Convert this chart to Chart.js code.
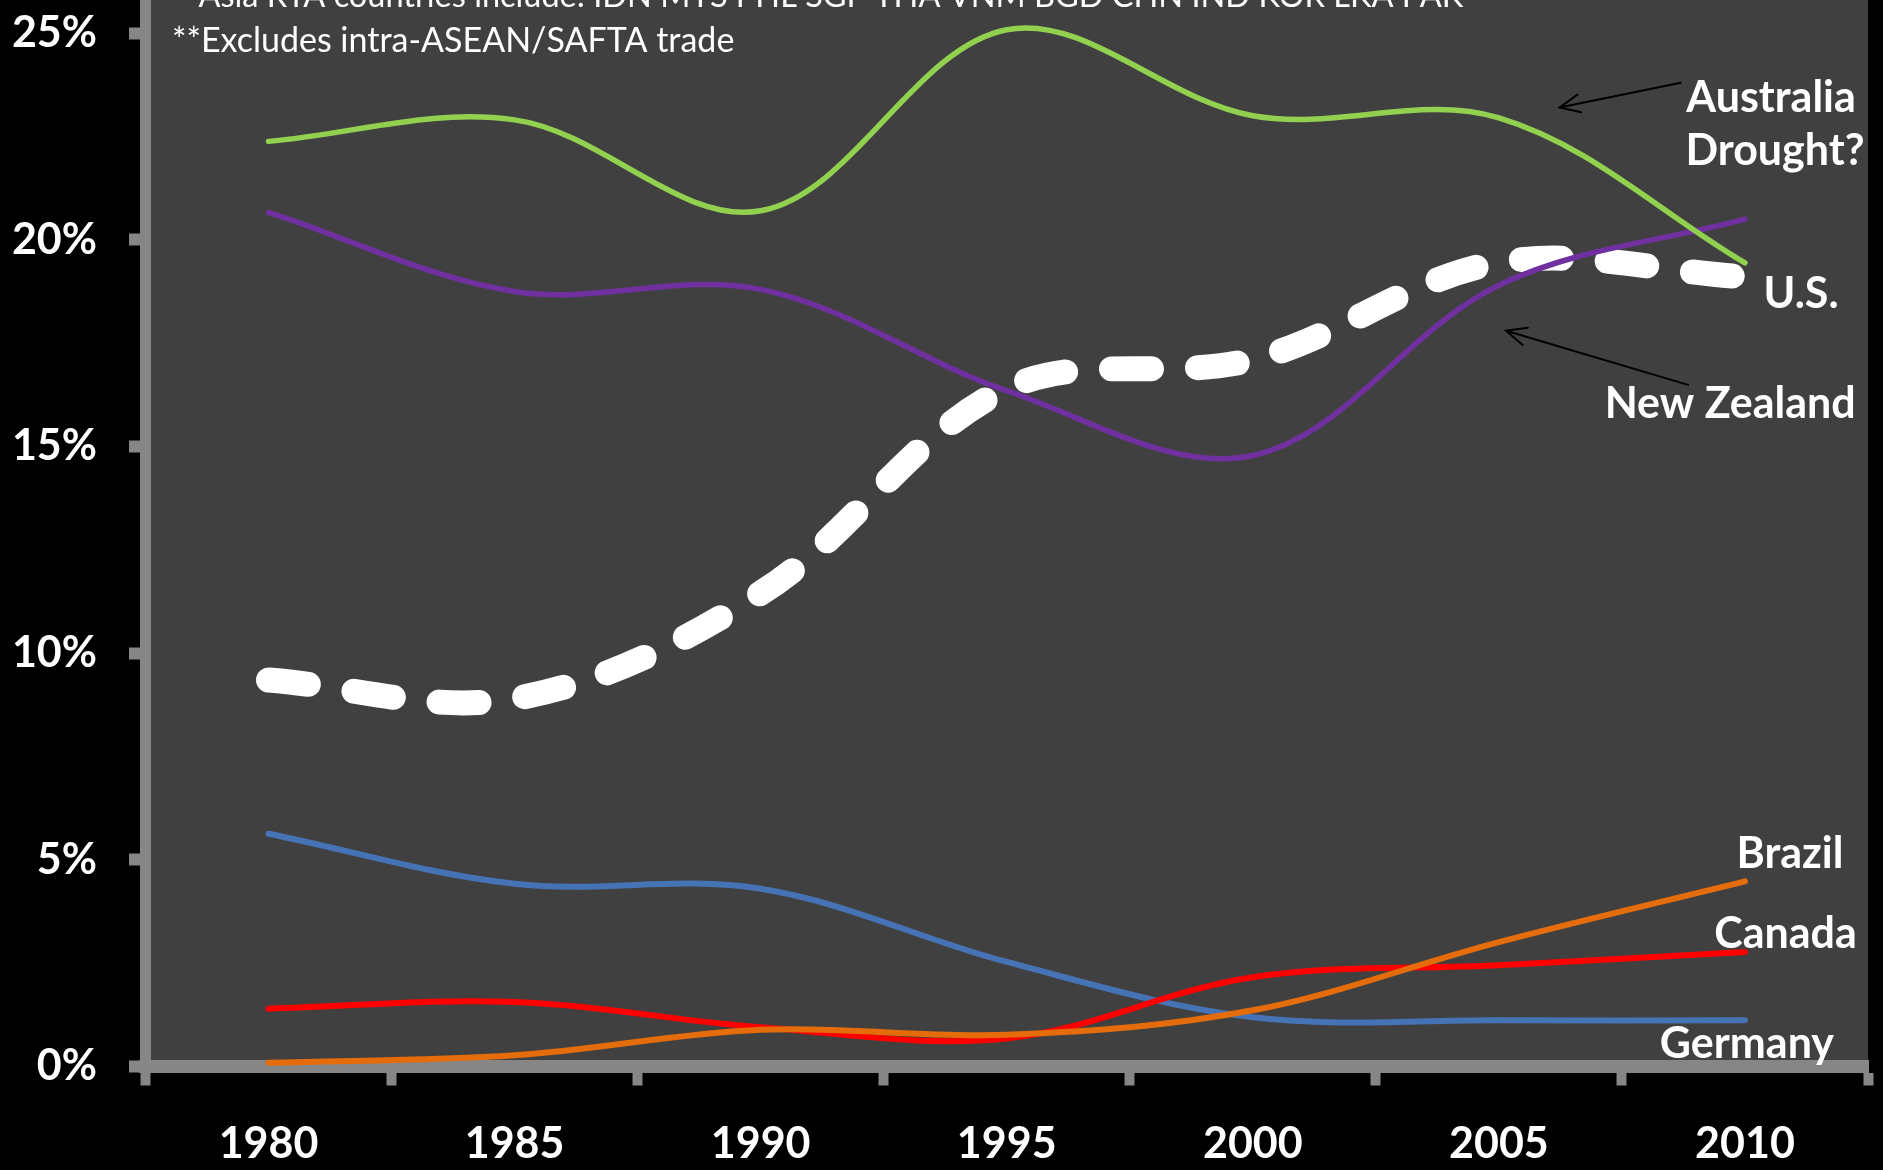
<!DOCTYPE html>
<html>
<head>
<meta charset="utf-8">
<title>Share of agricultural imports</title>
<script src="https://cdn.jsdelivr.net/npm/chart.js@4.4.1/dist/chart.umd.min.js"></script>
<style>
  html, body { margin: 0; padding: 0; background: #000; overflow: hidden; }
  #wrap { position: relative; width: 1883px; height: 1170px; }
</style>
</head>
<body>
<div id="wrap"><canvas id="chart" width="1883" height="1170"></canvas></div>
<script>
// ---- data (percent share) ----
const years = ['1980', '1985', '1990', '1995', '2000', '2005', '2010'];
const usShare          = [9.35, 8.90, 11.45, 16.40, 17.10, 19.45, 19.10];
const australiaShare   = [22.38, 22.90, 20.70, 25.08, 23.00, 22.95, 19.44];
const newZealandShare  = [20.66, 18.75, 18.80, 16.35, 14.78, 18.90, 20.50];
const germanyShare     = [5.63, 4.42, 4.30, 2.53, 1.19, 1.12, 1.12];
const canadaShare      = [1.40, 1.56, 0.95, 0.68, 2.16, 2.45, 2.77];
const brazilShare      = [0.09, 0.27, 0.89, 0.77, 1.36, 3.01, 4.48];
const yTickValues      = [0, 5, 10, 15, 20, 25];

const noteLines = [
  '*Asia RTA countries include: IDN MYS PHL SGP THA VNM BGD CHN IND KOR LKA PAK',
  '**Excludes intra-ASEAN/SAFTA trade'
];

// series name tags, anchored in axis units (category index, percent)
const seriesTags = [
  { text: 'Australia',   x: 6.106, y: 23.08 },
  { text: 'Drought?',    x: 6.122, y: 21.82 },
  { text: 'U.S.',        x: 6.228, y: 18.36 },
  { text: 'New Zealand', x: 5.940, y: 15.70 },
  { text: 'Brazil',      x: 6.183, y: 4.80 },
  { text: 'Canada',      x: 6.165, y: 2.87 },
  { text: 'Germany',     x: 6.008, y: 0.21 }
];

// pointer arrows, tail -> head, in axis units
const pointerArrows = [
  { from: [5.739, 23.80], to: [5.247, 23.20] },
  { from: [5.769, 16.49], to: [5.029, 17.80] }
];

const AXIS_GREY = '#868686';
const TICK_FONT = { family: 'Lato, sans-serif', size: 43, weight: 'bold' };

// dark plot panel on a black page
const backdrop = {
  id: 'backdrop',
  beforeDraw(chart) {
    const { ctx, chartArea: a } = chart;
    ctx.save();
    ctx.fillStyle = '#000';
    ctx.fillRect(0, 0, chart.width, chart.height);
    ctx.fillStyle = '#404040';
    ctx.fillRect(a.left, a.top, a.right - a.left, a.bottom - a.top);
    ctx.restore();
  }
};

// footnotes, arrows and series tags
const annotations = {
  id: 'annotations',
  afterDatasetsDraw(chart) {
    const { ctx, chartArea: a, scales: { x, y } } = chart;
    ctx.save();

    // footnotes in the top-left corner of the panel
    ctx.fillStyle = '#fff';
    ctx.textAlign = 'left';
    ctx.textBaseline = 'alphabetic';
    const left = a.left + 26.5;
    ctx.font = '34px Lato';
    const shift = ctx.measureText('**').width - ctx.measureText('*').width;
    ctx.fillText(noteLines[1], left, a.top + 52);
    ctx.font = '32.5px Lato';
    ctx.fillText(noteLines[0], left + shift, a.top + 7);

    // arrows
    ctx.strokeStyle = '#000';
    ctx.lineWidth = 2;
    ctx.lineCap = 'round';
    pointerArrows.forEach(ar => {
      const x0 = x.getPixelForValue(ar.from[0]), y0 = y.getPixelForValue(ar.from[1]);
      const x1 = x.getPixelForValue(ar.to[0]),   y1 = y.getPixelForValue(ar.to[1]);
      const ang = Math.atan2(y0 - y1, x0 - x1);
      const len = 22, spread = 0.42;
      ctx.beginPath();
      ctx.moveTo(x0, y0);
      ctx.lineTo(x1, y1);
      ctx.moveTo(x1 + len * Math.cos(ang - spread), y1 + len * Math.sin(ang - spread));
      ctx.lineTo(x1, y1);
      ctx.lineTo(x1 + len * Math.cos(ang + spread), y1 + len * Math.sin(ang + spread));
      ctx.stroke();
    });

    // series tags
    ctx.fillStyle = '#fff';
    ctx.font = 'bold 43px Lato';
    ctx.textAlign = 'center';
    seriesTags.forEach(t => {
      ctx.fillText(t.text, x.getPixelForValue(t.x), y.getPixelForValue(t.y));
    });
    ctx.restore();
  }
};

new Chart(document.getElementById('chart').getContext('2d'), {
  type: 'line',
  data: {
    labels: years,
    datasets: [
      { label: 'Australia',   data: australiaShare,  borderColor: '#92D050', borderWidth: 5.5, order: 1 },
      { label: 'New Zealand', data: newZealandShare, borderColor: '#7030A0', borderWidth: 5.5, order: 2 },
      { label: 'Brazil',      data: brazilShare,     borderColor: '#E46C0A', borderWidth: 6,   order: 3 },
      { label: 'Canada',      data: canadaShare,     borderColor: '#FF0000', borderWidth: 6,   order: 4 },
      { label: 'Germany',     data: germanyShare,    borderColor: '#4673B5', borderWidth: 6,   order: 5 },
      { label: 'U.S.',        data: usShare,         borderColor: '#FFFFFF', borderWidth: 25,
        borderDash: [40, 46], borderCapStyle: 'round', order: 6 }
    ]
  },
  options: {
    responsive: false,
    animation: false,
    devicePixelRatio: 1,
    layout: { padding: { top: 0, right: 15, bottom: 0, left: 0 } },
    plugins: { legend: { display: false }, tooltip: { enabled: false } },
    elements: {
      point: { radius: 0, hoverRadius: 0 },
      line: { tension: 0.35, fill: false, borderCapStyle: 'round', borderJoinStyle: 'round' }
    },
    scales: {
      x: {
        offset: true,
        grid: { display: true, offset: true, drawOnChartArea: false, drawTicks: true,
                tickLength: 19, tickWidth: 10, tickColor: AXIS_GREY },
        border: { display: true, color: AXIS_GREY, width: 13 },
        ticks: { color: '#fff', font: TICK_FONT, padding: 33, maxRotation: 0, autoSkip: false },
        afterFit(s) { s.height = 103.5; s.paddingLeft = 0; s.paddingRight = 0; }
      },
      y: {
        min: 0,
        max: 25.8,
        afterBuildTicks(s) { s.ticks = yTickValues.map(v => ({ value: v })); },
        grid: { display: true, drawOnChartArea: false, drawTicks: true,
                tickLength: 16.5, tickWidth: 12, tickColor: AXIS_GREY },
        border: { display: true, color: AXIS_GREY, width: 11 },
        ticks: { color: '#fff', font: TICK_FONT, padding: 32, callback: v => v + '%' },
        afterFit(s) { s.width = 145.5; s.paddingTop = 0; s.paddingBottom = 0; }
      }
    }
  },
  plugins: [backdrop, annotations]
});
</script>
</body>
</html>
